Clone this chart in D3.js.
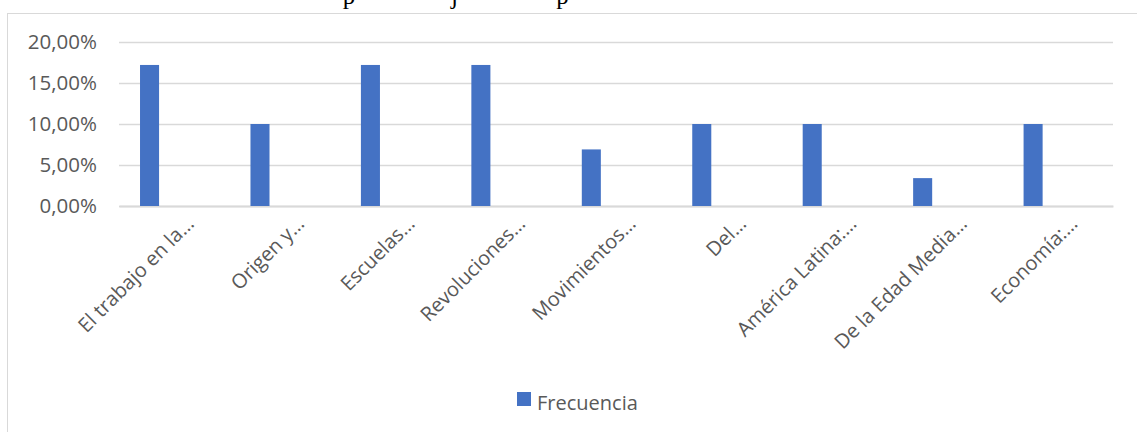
<!DOCTYPE html>
<html>
<head>
<meta charset="utf-8">
<script src="https://cdn.jsdelivr.net/npm/d3@7"></script>
<style>
  body { margin: 0; background: #fff; }
  svg { display: block; }
</style>
</head>
<body>
<svg id="canvas" width="1137" height="432"></svg>
<script>
var categories = [
  'El trabajo en la…',
  'Origen y…',
  'Escuelas…',
  'Revoluciones…',
  'Movimientos…',
  'Del…',
  'América Latina:…',
  'De la Edad Media…',
  'Economía:…',
];
var seriesNames = ['Frecuencia'];
var frecuencia = [17.2, 10, 17.2, 17.2, 6.9, 10, 10, 3.4, 10];
var yTicks = [0, 5, 10, 15, 20];
// cut-off heading line of the page above the chart
var headingGlyphs = [
  {ch: 'p', at: 0.225},
  {ch: 'j', at: 0.334},
  {ch: 'p', at: 0.44},
];

var svg = d3.select('#canvas');
var left = 119;
var right = 1113;
var top0 = 42;
var bottom0 = 206;
var grey = '#595959';
var lineGrey = '#d9d9d9';
var barBlue = '#4472c4';

// page heading remnants
svg.selectAll('.heading')
  .data(headingGlyphs)
  .enter()
  .append('text')
  .attr('class', 'heading')
  .attr('x', d => left + (right - left) * d.at)
  .attr('y', 4)
  .style('font-family', '"Liberation Serif", "Times New Roman", serif')
  .style('font-size', '25px')
  .style('fill', '#000')
  .text(d => d.ch);

// chart frame
svg.append('rect')
  .attr('x', 7.5)
  .attr('y', 13.5)
  .attr('width', 1200)
  .attr('height', 500)
  .style('fill', 'none')
  .style('stroke', lineGrey)
  .style('stroke-width', 1);

var chart = svg.append('g');

var y = d3.scaleLinear().domain([0, 20]).range([bottom0, top0]);
var x = d3.scaleBand().domain(categories).range([left, right]).padding(0);
var xSub = d3
  .scaleBand()
  .domain(seriesNames)
  .range([0, x.bandwidth()])
  .paddingOuter(2.4)
  .align(0.23);

var yAxis = chart
  .append('g')
  .attr('transform', 'translate(' + left + ',0)')
  .call(
    d3.axisLeft(y)
      .tickValues(yTicks)
      .tickSize(-(right - left))
      .tickPadding(22)
      .tickFormat(d => d.toFixed(2).replace('.', ',') + '%'),
  );
yAxis.select('.domain').remove();
yAxis.selectAll('line')
  .style('stroke', lineGrey)
  .style('stroke-width', 1.5);
yAxis.selectAll('text')
  .style('font-family', '"Open Sans", sans-serif')
  .style('font-size', '20.5px')
  .style('fill', grey);

var xAxis = chart
  .append('g')
  .attr('transform', 'translate(0,' + bottom0 + ')')
  .call(d3.axisBottom(x).tickSize(0).tickSizeOuter(0));
xAxis.select('.domain')
  .style('stroke', lineGrey)
  .style('stroke-width', 2);
xAxis.selectAll('.tick text')
  .attr('y', 0)
  .attr('dy', '0.35em')
  .attr('transform', 'translate(16,14) rotate(-45)')
  .style('text-anchor', 'end')
  .style('font-family', '"Open Sans", sans-serif')
  .style('font-size', '20px')
  .style('fill', grey);

chart
  .selectAll('.bar')
  .data(categories.map((c, i) => ({label: c, value: frecuencia[i], series: seriesNames[0]})))
  .enter()
  .append('rect')
  .attr('class', 'bar')
  .attr('x', d => x(d.label) + xSub(d.series))
  .attr('width', xSub.bandwidth())
  .attr('y', d => y(d.value))
  .attr('height', d => y(0) - y(d.value))
  .style('fill', barBlue);

// legend
var legend = svg.append('g').attr('transform', 'translate(517,392)');
legend.append('rect')
  .attr('width', 14)
  .attr('height', 14)
  .style('fill', barBlue);
legend.append('text')
  .attr('x', 20)
  .attr('y', 18)
  .style('font-family', '"Open Sans", sans-serif')
  .style('font-size', '20px')
  .style('fill', grey)
  .text(seriesNames[0]);
</script>
</body>
</html>
